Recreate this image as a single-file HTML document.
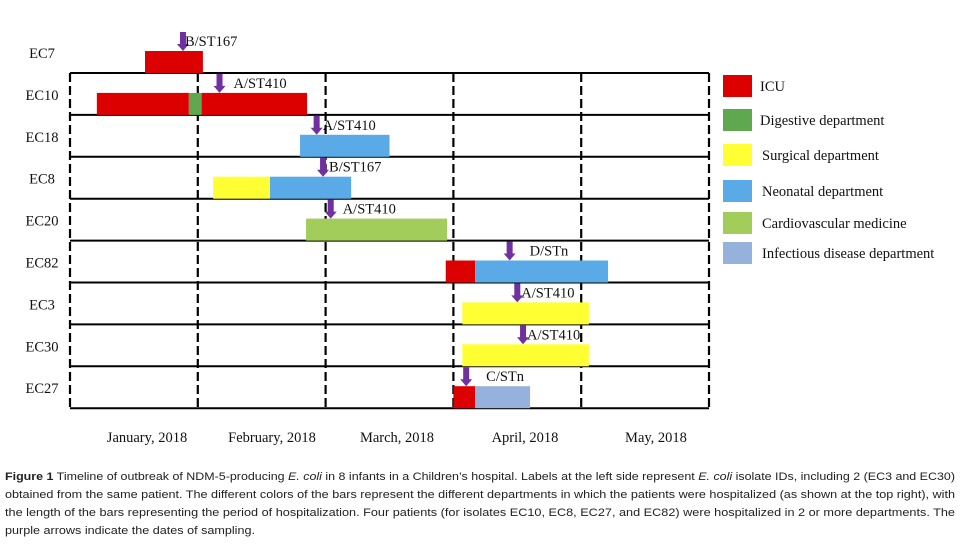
<!DOCTYPE html>
<html><head><meta charset="utf-8"><style>
html,body{margin:0;padding:0;background:#fff;}
svg{display:block;}
</style></head><body>
<svg id="chart" width="967" height="544" viewBox="0 0 967 544" xmlns="http://www.w3.org/2000/svg">
<g id="grid"></g>
<g id="bars"></g>
<g id="arrows"></g>
<g id="labels"></g>
<g id="months"></g>
<g id="legend"></g>
<g font-family="'Liberation Sans', sans-serif" font-size="11" fill="#222">
<text x="5" y="480" textLength="950" lengthAdjust="spacingAndGlyphs"><tspan font-weight="bold">Figure 1</tspan> Timeline of outbreak of NDM-5-producing <tspan font-style="italic">E. coli</tspan> in 8 infants in a Children’s hospital. Labels at the left side represent <tspan font-style="italic">E. coli</tspan> isolate IDs, including 2 (EC3 and EC30)</text>
<text x="5" y="498" textLength="950" lengthAdjust="spacingAndGlyphs">obtained from the same patient. The different colors of the bars represent the different departments in which the patients were hospitalized (as shown at the top right), with</text>
<text x="5" y="516" textLength="950" lengthAdjust="spacingAndGlyphs">the length of the bars representing the period of hospitalization. Four patients (for isolates EC10, EC8, EC27, and EC82) were hospitalized in 2 or more departments. The</text>
<text x="5" y="534" textLength="250" lengthAdjust="spacingAndGlyphs">purple arrows indicate the dates of sampling.</text>
</g>
</svg>
<script>
// Data (x units: months since Jan 1, 2018)
const rows = ["EC7","EC10","EC18","EC8","EC20","EC82","EC3","EC30","EC27"];
const months = ["January, 2018","February, 2018","March, 2018","April, 2018","May, 2018"];
const departments = ["ICU","Digestive department","Surgical department","Neonatal department","Cardiovascular medicine","Infectious disease department"];
const deptColors = ["#dd0000","#5fa84f","#ffff33","#5aaae8","#a3cd5a","#95b1dc"];
// segments: [rowIndex, deptIndex, start, end]
const segRow   = [0,1,1,1,2,3,3,4,5,5,6,7,8,8];
const segDept  = [0,0,1,0,3,2,3,4,0,3,2,2,0,5];
const segStart = [0.587,0.21,0.93,1.03,1.80,1.12,1.565,1.847,2.94,3.17,3.07,3.07,3.0,3.17];
const segEnd   = [1.04,0.93,1.03,1.855,2.50,1.565,2.20,2.95,3.17,4.21,4.06,4.06,3.17,3.60];
const sampleDate = [0.884,1.17,1.93,1.98,2.04,3.44,3.50,3.545,3.10];
const sampleType = ["B/ST167","A/ST410","A/ST410","B/ST167","A/ST410","D/STn","A/ST410","A/ST410","C/STn"];

const NS="http://www.w3.org/2000/svg";
const x0=70, monthW=127.8, rowBottom0=73, rowH=41.9;
const xs = m => x0 + m*monthW;
const rowB = i => rowBottom0 + i*rowH;
const labelDx=[2,14,6,6,12,20,4,4,20];
function mk(tag, attrs, parent){const e=document.createElementNS(NS,tag);for(const k in attrs)e.setAttribute(k,attrs[k]);parent.appendChild(e);return e;}
const grid=document.getElementById('grid');
for(let i=0;i<rows.length;i++){
  const l=mk('line',{x1:x0,x2:709,y1:rowB(i),y2:rowB(i),stroke:'#000','stroke-width':2},grid);
  
  
}
for(let m=0;m<=5;m++){
  const x=m<5?xs(m):709;
  const l=mk('line',{x1:x,x2:x,y1:rowB(0),y2:rowB(rows.length-1),stroke:'#000','stroke-width':2.2,'stroke-dasharray':'9 4'},grid);
  
  
}
const bars=document.getElementById('bars');
for(let s=0;s<segRow.length;s++){
  const b=rowB(segRow[s]);
  const r=mk('rect',{x:xs(segStart[s]),y:b-22,width:xs(segEnd[s])-xs(segStart[s]),height:22,fill:deptColors[segDept[s]]},bars);
  
  
}
const arrows=document.getElementById('arrows');
for(let i=0;i<rows.length;i++){
  const x=xs(sampleDate[i]), b=rowB(i)-22, t=rowB(i)-41;
  const g=mk('g',{},arrows);
  
  
  mk('rect',{x:x-3,y:t,width:6,height:b-t-6,fill:'#7030a0'},g);
  mk('polygon',{points:`${x-6},${b-7} ${x+6},${b-7} ${x},${b}`,fill:'#7030a0'},g);
  const tx=mk('text',{x:x+labelDx[i],y:b-5,'font-family':"'Liberation Serif',serif",'font-size':14.5,fill:'#111'},g);
  tx.textContent=sampleType[i];
}
const labels=document.getElementById('labels');
for(let i=0;i<rows.length;i++){
  const t=mk('text',{x:42,y:rowB(i)-15,'text-anchor':'middle','font-family':"'Liberation Serif',serif",'font-size':14.5,fill:'#111'},labels);
  t.textContent=rows[i];
  
  
}
const mg=document.getElementById('months');
const mcx=[147,272,397,525,656];
for(let m=0;m<months.length;m++){
  const t=mk('text',{x:mcx[m],y:442,'text-anchor':'middle','font-family':"'Liberation Serif',serif",'font-size':14.5,fill:'#111'},mg);
  t.textContent=months[m];
  
  
}
const lg=document.getElementById('legend');
const ly=[75,109,144,180,212,242];
for(let i=0;i<departments.length;i++){
  const g=mk('g',{},lg);
  
  
  mk('rect',{x:723,y:ly[i],width:29,height:22,fill:deptColors[i]},g);
  const t=mk('text',{x:i<2?760:762,y:ly[i]+16,'font-family':"'Liberation Serif',serif",'font-size':14.5,fill:'#111'},g);
  t.textContent=departments[i];
}
</script>
</body></html>
